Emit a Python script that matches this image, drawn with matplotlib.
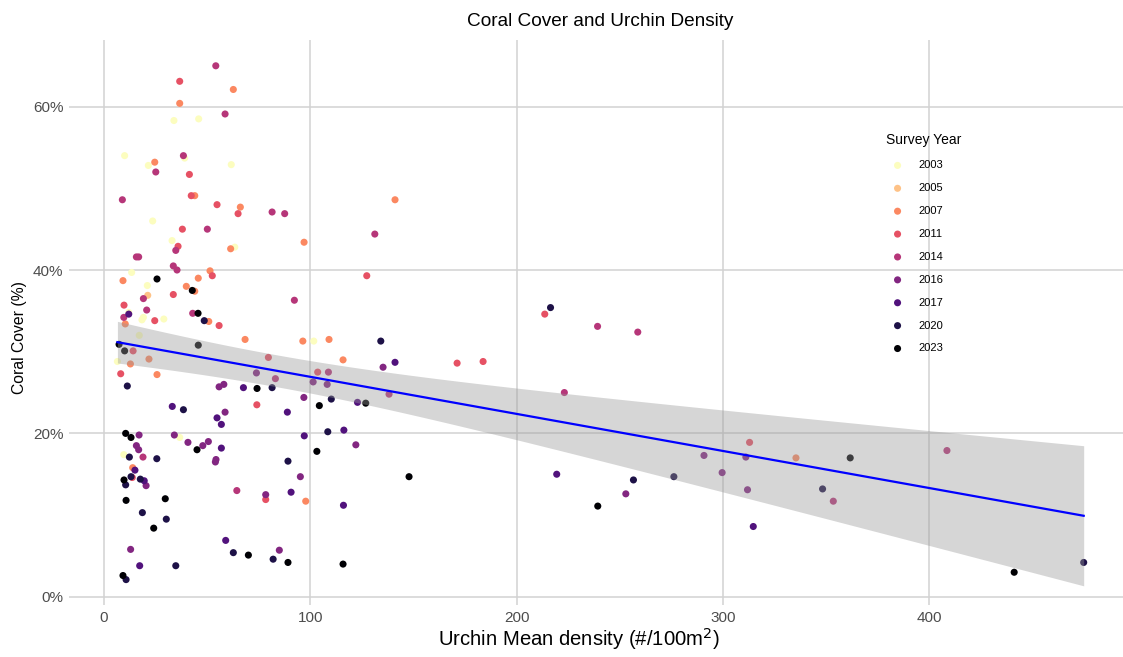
import numpy as np
import matplotlib
matplotlib.use("Agg")
import matplotlib.pyplot as plt

# survey years and their colours (magma, reversed)
years = ["2003", "2005", "2007", "2011", "2014", "2016", "2017", "2020", "2023"]
year_colors = ["#FCFDBF", "#FEC287", "#FB8861", "#E65164", "#B63679",
               "#822681", "#51127C", "#1D1147", "#000004"]

# urchin mean density (#/100m2) and coral cover (%) by survey year
x_2003 = [33.9, 45.9, 10.0, 39.1, 21.5, 61.7, 23.6, 33.0, 63.4, 13.4, 21.0, 12.0,
          19.1, 18.4, 29.0, 17.1, 6.5, 101.7, 9.6, 36.7]
y_2003 = [58.3, 58.5, 54.0, 53.7, 52.8, 52.9, 46.0, 43.6, 42.8, 39.7, 38.1, 34.8,
          34.2, 33.9, 34.0, 32.0, 28.8, 31.3, 17.4, 19.5]

x_2005 = [21.2]
y_2005 = [36.9]

x_2007 = [62.7, 36.7, 24.6, 44.0, 66.1, 141.1, 61.4, 51.4, 9.2, 45.7, 39.9, 44.0,
          50.8, 10.3, 68.4, 21.8, 12.8, 25.7, 97.0, 96.4, 109.1, 115.9, 13.9,
          97.8, 335.5]
y_2007 = [62.1, 60.4, 53.2, 49.1, 47.7, 48.6, 42.6, 39.9, 38.7, 39.0, 38.0, 37.4,
          33.7, 33.4, 31.5, 29.1, 28.5, 27.2, 43.4, 31.3, 31.5, 29.0, 15.8,
          11.7, 17.0]

x_2011 = [36.7, 41.4, 42.3, 54.8, 65.0, 38.0, 35.9, 52.5, 33.6, 9.7, 24.6, 55.8,
          14.1, 8.1, 74.1, 127.4, 79.7, 103.6, 13.7, 78.4, 213.7, 171.2, 183.8,
          313.0]
y_2011 = [63.1, 51.7, 49.1, 48.0, 46.9, 45.0, 42.9, 39.3, 37.0, 35.7, 33.8, 33.2,
          30.1, 27.3, 23.5, 39.3, 29.3, 27.5, 14.6, 11.9, 34.6, 28.6, 28.8,
          18.9]

x_2014 = [54.2, 58.7, 38.5, 25.1, 8.9, 50.1, 81.5, 87.6, 34.8, 15.7, 16.8, 33.6,
          35.4, 19.1, 20.7, 9.6, 43.0, 131.3, 92.3, 108.8, 83.1, 138.2, 18.9,
          64.4, 223.2, 239.3, 258.8, 408.7, 353.6]
y_2014 = [65.0, 59.1, 54.0, 52.0, 48.6, 45.0, 47.1, 46.9, 42.4, 41.6, 41.6, 40.5,
          40.0, 36.5, 35.1, 34.2, 34.7, 44.4, 36.3, 27.5, 26.7, 24.8, 17.1,
          13.0, 25.0, 33.1, 32.4, 17.9, 11.7]

x_2016 = [73.9, 55.8, 58.1, 58.7, 17.0, 34.1, 40.7, 47.9, 50.6, 15.7, 16.8, 54.3,
          54.0, 20.4, 12.9, 101.4, 108.2, 96.9, 135.3, 122.1, 95.2, 78.4, 85.0,
          253.0, 290.9, 299.7, 311.2, 312.0]
y_2016 = [27.4, 25.7, 26.0, 22.6, 19.8, 19.8, 18.9, 18.5, 19.0, 18.5, 18.0, 16.8,
          16.5, 13.6, 5.8, 26.3, 26.0, 24.4, 28.1, 18.6, 14.7, 12.5, 5.7,
          12.6, 17.3, 15.2, 17.1, 13.1]

x_2017 = [12.0, 67.6, 33.1, 54.8, 56.9, 56.9, 15.0, 19.5, 59.0, 17.3, 141.1, 122.9,
          88.9, 97.1, 116.3, 90.7, 116.1, 219.5, 314.8]
y_2017 = [34.6, 25.6, 23.3, 21.9, 21.1, 18.2, 15.5, 14.2, 6.9, 3.8, 28.7, 23.8,
          22.6, 19.7, 20.4, 12.8, 11.2, 15.0, 8.6]

x_2020 = [48.6, 11.3, 38.5, 12.3, 25.6, 13.1, 17.6, 10.5, 18.6, 30.2, 62.7, 34.8,
          10.7, 134.2, 81.5, 110.2, 108.5, 89.2, 82.0, 216.5, 256.7, 276.3,
          348.4, 475.0]
y_2020 = [33.8, 25.8, 22.9, 17.1, 16.9, 14.7, 14.4, 13.7, 10.3, 9.5, 5.4, 3.8,
          2.1, 31.3, 25.6, 24.2, 20.2, 16.6, 4.6, 35.4, 14.3, 14.7,
          13.2, 4.2]

x_2023 = [25.7, 42.8, 45.6, 7.3, 45.7, 10.0, 74.2, 10.5, 13.1, 45.1, 9.7, 10.7,
          29.7, 24.1, 70.0, 9.2, 126.9, 104.4, 103.2, 147.9, 89.2, 115.9, 239.4,
          361.8, 441.3]
y_2023 = [38.9, 37.5, 34.7, 30.9, 30.8, 30.1, 25.5, 20.0, 19.5, 18.0, 14.3, 11.8,
          12.0, 8.4, 5.1, 2.6, 23.7, 23.4, 17.8, 14.7, 4.2, 4.0, 11.1,
          17.0, 3.0]

xs = [x_2003, x_2005, x_2007, x_2011, x_2014, x_2016, x_2017, x_2020, x_2023]
ys = [y_2003, y_2005, y_2007, y_2011, y_2014, y_2016, y_2017, y_2020, y_2023]

plt.rcParams['font.family'] = ['Liberation Sans', 'DejaVu Sans']

W, H = 1123, 657
fig = plt.figure(figsize=(W / 100, H / 100), dpi=100)
# panel runs a little past the right edge, like the reference
ax = fig.add_axes([69.1 / W, 1 - 605.3 / H, (1132 - 69.1) / W, (605.3 - 40.1) / H])

for yr, col, xv, yv in zip(years, year_colors, xs, ys):
    ax.scatter(xv, yv, s=26, color=col, edgecolors='none', label=yr, zorder=2)

# linear fit with 95% confidence band (like geom_smooth(method = "lm"))
all_x = np.concatenate([np.array(v) for v in xs])
all_y = np.concatenate([np.array(v) for v in ys])
n = len(all_x)
slope, intercept = np.polyfit(all_x, all_y, 1)
resid = all_y - (intercept + slope * all_x)
s_err = np.sqrt(np.sum(resid ** 2) / (n - 2))
x_fit = np.linspace(all_x.min(), all_x.max(), 80)
y_fit = intercept + slope * x_fit
se_fit = s_err * np.sqrt(1 / n + (x_fit - all_x.mean()) ** 2 /
                         np.sum((all_x - all_x.mean()) ** 2))
t_crit = 1.972
ax.fill_between(x_fit, y_fit - t_crit * se_fit, y_fit + t_crit * se_fit,
                color='#999999', alpha=0.4, linewidth=0, zorder=3)
ax.plot(x_fit, y_fit, color='#0000FF', linewidth=1.6, zorder=4)

# ggplot-like 5% expansion
xpad = 0.05 * (all_x.max() - all_x.min())
ypad = 0.05 * (all_y.max() - all_y.min())
ax.set_xlim(all_x.min() - xpad, all_x.max() + xpad)
ax.set_ylim(all_y.min() - ypad, all_y.max() + ypad)

ax.set_xticks([0, 100, 200, 300, 400])
ax.set_yticks([0, 20, 40, 60])
ax.set_yticklabels([f"{v}%" for v in [0, 20, 40, 60]])
ax.grid(True, color='#d2d2d2', linewidth=1.1, zorder=0)
ax.set_axisbelow(True)
for sp in ax.spines.values():
    sp.set_visible(False)
ax.tick_params(length=0, labelsize=11, labelcolor='#4d4d4d', pad=4)

ax.set_title("Coral Cover and Urchin Density", fontsize=13.7, pad=10)
ax.set_xlabel("Urchin Mean density (#/100m$^2$)", fontsize=14.6)
ax.set_ylabel("Coral Cover (%)", fontsize=11.3)
ax.xaxis.set_label_coords(0.48, -0.037)
ax.yaxis.set_label_coords(-0.040, 0.473)

leg = ax.legend(title="Survey Year", loc='upper left',
                bbox_to_anchor=(882 / W, 1 - 129 / H),
                bbox_transform=fig.transFigure, frameon=False,
                fontsize=8, title_fontsize=10, markerscale=1.0,
                handletextpad=0.9, labelspacing=1.16, borderaxespad=0)
leg._legend_box.align = "left"

fig.savefig("out.png", dpi=100)
